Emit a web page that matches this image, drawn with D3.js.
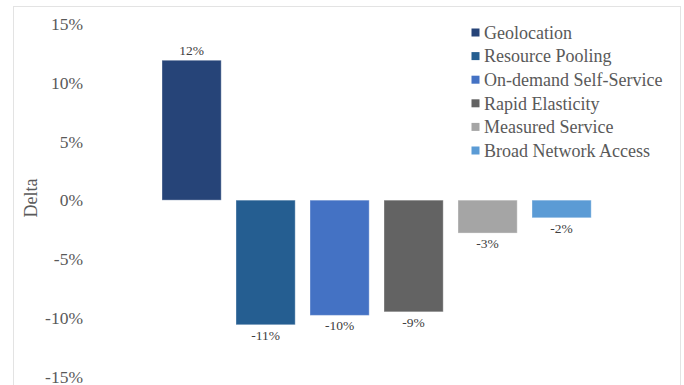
<!DOCTYPE html>
<html><head><meta charset="utf-8">
<script src="https://cdn.jsdelivr.net/npm/d3@7/dist/d3.min.js"></script>
<style>html,body{margin:0;padding:0;background:#fff;}svg{display:block;}</style>
</head><body>
<svg id="c" width="684" height="385"></svg>
<script>
const series = ["Geolocation","Resource Pooling","On-demand Self-Service","Rapid Elasticity","Measured Service","Broad Network Access"];
const values = [11.9, -10.6, -9.8, -9.5, -2.8, -1.5];
const labels = ["12%","-11%","-10%","-9%","-3%","-2%"];
const colors = ["#264478","#255E91","#4472C4","#636363","#A5A5A5","#5B9BD5"];
const yTicks = [15,10,5,0,-5,-10,-15];
const yTitle = "Delta";

const svg = d3.select("#c");
const font = "Liberation Serif, Times New Roman, serif";

svg.append("rect").attr("x",13.5).attr("y",6.5).attr("width",667).attr("height",400)
  .attr("fill","#fff").attr("stroke","#e3e3e3").attr("stroke-width",1);

const y = d3.scaleLinear().domain([-15,15]).range([376.5,23.8]);
const x = d3.scaleBand().domain(series).range([154.6,598.6]).paddingInner(0.2).paddingOuter(0.1);

const yAxis = svg.append("g").attr("transform","translate(83,0)").attr("font-family",font)
  .call(d3.axisLeft(y).tickValues(yTicks).tickSize(0).tickPadding(0).tickFormat(d=>d+"%"));
yAxis.attr("font-family",font).attr("font-size",17.5);
yAxis.select(".domain").remove();
yAxis.selectAll("text").style("font-family",font).style("font-size","17.5px").attr("fill","#595959").attr("dy","0.33em");

svg.append("text").attr("transform","translate(37,198) rotate(-90)")
  .attr("text-anchor","middle").style("font-family",font).style("font-size","18px").attr("fill","#595959").text(yTitle);

svg.selectAll("rect.bar").data(series).enter().append("rect").attr("class","bar")
  .attr("x",d=>x(d)).attr("width",x.bandwidth())
  .attr("y",(d,i)=>y(Math.max(0,values[i])))
  .attr("height",(d,i)=>Math.abs(y(values[i])-y(0)))
  .attr("fill",(d,i)=>colors[i]).attr("stroke","#fff").attr("stroke-opacity",0.35).attr("stroke-width",1);

svg.selectAll("text.lbl").data(series).enter().append("text").attr("class","lbl")
  .attr("x",d=>x(d)+x.bandwidth()/2)
  .attr("y",(d,i)=>values[i]>=0 ? y(values[i])-5 : y(values[i])+15)
  .attr("text-anchor","middle").style("font-family",font).style("font-size","13.5px").attr("fill","#404040")
  .text((d,i)=>labels[i]);

const lg = svg.append("g");
series.forEach((s,i)=>{
  const cy = 32.5 + i*23.6;
  lg.append("rect").attr("x",471.5).attr("y",cy-4).attr("width",8).attr("height",8).attr("fill",colors[i]);
  lg.append("text").attr("x",484).attr("y",cy).attr("dy","0.35em").style("font-family",font)
    .style("font-size","18px").attr("fill","#595959").text(s);
});
</script>
</body></html>
